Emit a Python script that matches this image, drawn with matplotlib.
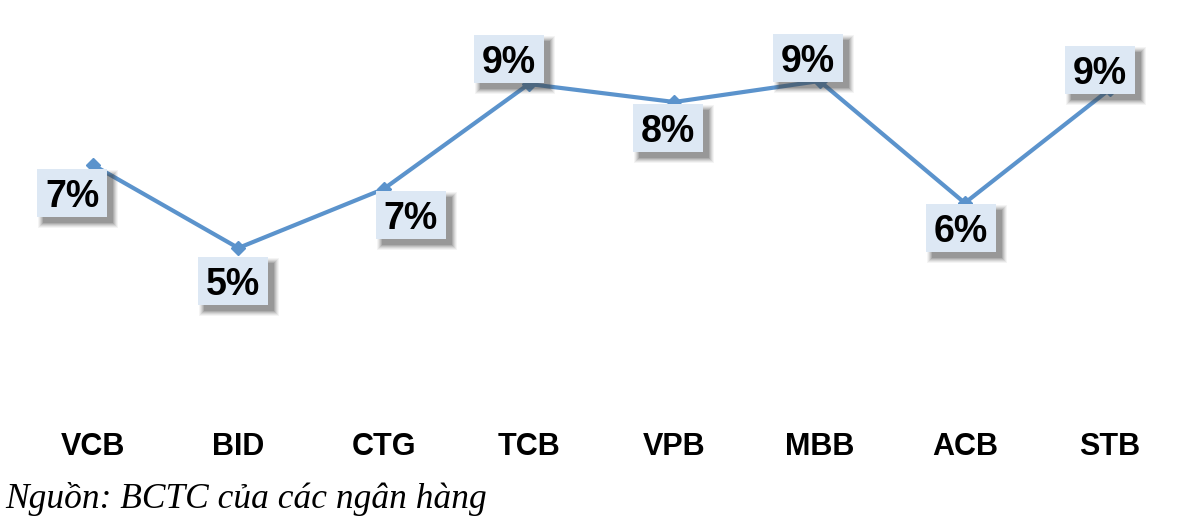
import matplotlib
matplotlib.use("Agg")
import matplotlib.pyplot as plt
from matplotlib.patches import Rectangle
from matplotlib.transforms import IdentityTransform

# ---- data ----
banks = ["VCB", "BID", "CTG", "TCB", "VPB", "MBB", "ACB", "STB"]
values = [7.1, 5.44, 6.62, 8.72, 8.36, 8.78, 6.34, 8.62]
source = "Nguồn: BCTC của các ngân hàng"

# ---- style: label box offsets from each point (pixels, +x right, +y down) ----
label_dx = [-21, -5, 27, -20, -6, -12, -4, -10]
label_dy = [28, 33, 26, -25, 26, -23, 25, -19]

W, H, DPI = 1200, 531, 100
fig = plt.figure(figsize=(W / DPI, H / DPI), dpi=DPI)
ax = fig.add_axes([0, 0, 1, 1])
ax.set_xlim(-93 / 145.3, (W - 93) / 145.3)
ax.set_ylim(10.4 - H / 50, 10.4)
ax.axis("off")

line_color = "#5b93cc"
x = list(range(len(banks)))
ax.plot(x, values, color=line_color, lw=3.0, marker="D", ms=7,
        markerfacecolor=line_color, markeredgecolor=line_color, zorder=2)

bw, bh = 70, 48
for i, (b, v) in enumerate(zip(banks, values)):
    px, py = ax.transData.transform((i, v))
    cx, cy = px + label_dx[i], py - label_dy[i]
    # soft shadow
    for k, a in enumerate([0.06, 0.08, 0.10, 0.13, 0.16, 0.2]):
        grow = 5 - k
        fig.patches.append(Rectangle((cx - bw / 2 + 6 - grow, cy - bh / 2 - 6 - grow),
                                     bw + 2 * grow, bh + 2 * grow,
                                     transform=IdentityTransform(), facecolor="#444444",
                                     edgecolor="none", alpha=a, zorder=3))
    fig.patches.append(Rectangle((cx - bw / 2, cy - bh / 2), bw, bh,
                                 transform=IdentityTransform(), facecolor="#dde8f4",
                                 edgecolor="none", zorder=4))
    fig.text(cx / W, cy / H, f"{v:.0f}%", ha="center", va="center_baseline",
             fontsize=27, fontweight="bold", family="Liberation Sans",
             color="black", zorder=5)
    # category label
    lx, _ = ax.transData.transform((i, v))
    fig.text(lx / W, 1 - 447 / H, b, ha="center", va="center",
             fontsize=22, fontweight="bold", family="Liberation Sans", color="black")

fig.text(5 / W, 1 - 508 / H, source, ha="left", va="baseline",
         fontsize=25.5, style="italic", family="Liberation Serif", color="black")

fig.savefig("out.png", dpi=DPI, facecolor="white")
